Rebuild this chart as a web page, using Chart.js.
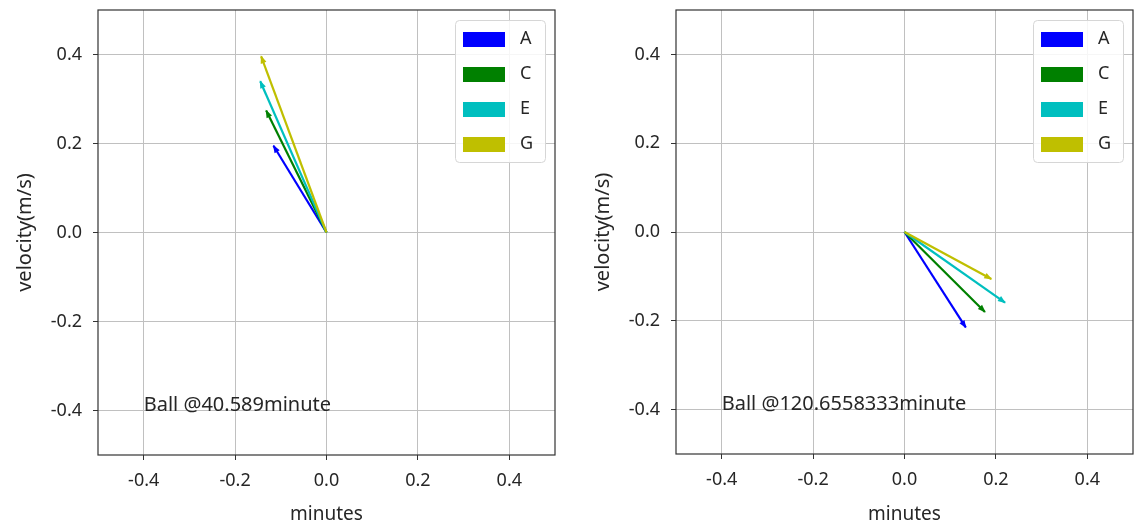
<!DOCTYPE html>
<html>
<head>
<meta charset="utf-8">
<script src="https://cdn.jsdelivr.net/npm/chart.js@4.4.0/dist/chart.umd.min.js"></script>
<style>
  body { margin: 0; background: #fff; width: 1136px; height: 531px; position: relative; overflow: hidden; }
  .box { position: absolute; top: 0; width: 568px; height: 531px; }
</style>
</head>
<body>
<div class="box" style="left:0"><canvas id="leftChart" width="568" height="531"></canvas></div>
<div class="box" style="left:568px"><canvas id="rightChart" width="568" height="531"></canvas></div>
<script>
// arrow labels and colours
const labels = ['A', 'C', 'E', 'G'];
const colors = ['#0000ff', '#008000', '#00bfbf', '#bfbf00'];

// arrow end points (all start at 0,0)
const leftU = [-0.116, -0.132, -0.145, -0.143];
const leftV = [0.195, 0.274, 0.340, 0.396];
const rightU = [0.134, 0.176, 0.220, 0.190];
const rightV = [-0.215, -0.180, -0.159, -0.106];

const tickValues = [-0.4, -0.2, 0, 0.2, 0.4];
const tickLabels = ['-0.4', '-0.2', '0.0', '0.2', '0.4'];

const leftNote = 'Ball @40.589minute';
const rightNote = 'Ball @120.6558333minute';
const noteX = -0.4, noteY = -0.4;

Chart.defaults.font.family = '"Noto Sans", sans-serif';
Chart.defaults.font.size = 18;
Chart.defaults.color = '#262626';

const textColor = '#262626';

const makeChart = (id, u, v, note, yWidth, rightPad, xHeight, yTitlePad) => {
    const datasets = labels.map((lab, i) => ({
        label: lab,
        data: [{x: 0, y: 0}, {x: u[i], y: v[i]}],
        borderColor: colors[i],
        backgroundColor: colors[i],
        borderWidth: 2.2,
        pointRadius: 0,
        order: labels.length - i
    }));

    const decor = {
        id: 'decor',
        afterDatasetsDraw(chart) {
            const c = chart.ctx;
            // arrow heads
            chart.data.datasets.forEach((ds, i) => {
                const pts = chart.getDatasetMeta(i).data;
                const p0 = pts[0], p1 = pts[1];
                const a = Math.atan2(p1.y - p0.y, p1.x - p0.x);
                const len = 7, hw = 3;
                c.save();
                c.fillStyle = ds.borderColor;
                c.translate(p1.x, p1.y);
                c.rotate(a);
                c.beginPath();
                c.moveTo(1, 0);
                c.lineTo(-len, -hw);
                c.lineTo(-len, hw);
                c.closePath();
                c.fill();
                c.restore();
            });
        },
        afterDraw(chart) {
            const c = chart.ctx;
            const area = chart.chartArea;
            const xs = chart.scales.x, ys = chart.scales.y;
            c.save();
            // frame
            c.strokeStyle = '#333';
            c.lineWidth = 1.2;
            c.strokeRect(area.left, area.top, area.right - area.left, area.bottom - area.top);
            // note text
            c.fillStyle = textColor;
            c.font = '20px "Noto Sans", sans-serif';
            c.textAlign = 'left';
            c.textBaseline = 'alphabetic';
            c.fillText(note, xs.getPixelForValue(noteX), ys.getPixelForValue(noteY));
            // legend
            const bw = 90, bh = 142;
            const bx = area.right - 10 - bw, by = area.top + 10;
            c.fillStyle = 'rgba(255,255,255,0.85)';
            c.strokeStyle = '#d6d6d6';
            c.lineWidth = 1;
            c.beginPath();
            c.roundRect(bx + 0.5, by + 0.5, bw, bh, 4);
            c.fill();
            c.stroke();
            c.font = '18px "Noto Sans", sans-serif';
            chart.data.datasets.forEach((ds, i) => {
                const py = by + 12 + i * 35;
                c.fillStyle = ds.borderColor;
                c.fillRect(bx + 8, py, 42, 15);
                c.fillStyle = textColor;
                c.textBaseline = 'middle';
                c.fillText(ds.label, bx + 65, py + 7);
            });
            c.restore();
        }
    };

    return new Chart(document.getElementById(id), {
        type: 'line',
        data: {datasets: datasets},
        options: {
            responsive: false,
            animation: false,
            layout: {padding: {top: 10, right: rightPad, left: 0, bottom: 0}},
            plugins: {legend: {display: false}, tooltip: {enabled: false}},
            scales: {
                x: {
                    type: 'linear',
                    min: -0.5,
                    max: 0.5,
                    afterBuildTicks: (s) => { s.ticks = tickValues.map(t => ({value: t})); },
                    afterFit: (s) => { s.height = xHeight; s.paddingLeft = 0; s.paddingRight = 0; },
                    ticks: {
                        padding: 10,
                        color: textColor,
                        callback: (val) => tickLabels[tickValues.findIndex(t => Math.abs(t - val) < 1e-9)]
                    },
                    grid: {color: '#c0c0c0', lineWidth: 1, tickLength: 5, tickColor: '#333'},
                    border: {display: false},
                    title: {display: true, text: 'minutes', color: textColor, font: {size: 19}, padding: {top: 0, bottom: 5}}
                },
                y: {
                    type: 'linear',
                    min: -0.5,
                    max: 0.5,
                    afterBuildTicks: (s) => { s.ticks = tickValues.map(t => ({value: t})); },
                    afterFit: (s) => { s.width = yWidth; s.paddingTop = 0; s.paddingBottom = 0; },
                    ticks: {
                        padding: 11,
                        color: textColor,
                        callback: (val) => tickLabels[tickValues.findIndex(t => Math.abs(t - val) < 1e-9)]
                    },
                    grid: {color: '#c0c0c0', lineWidth: 1, tickLength: 5, tickColor: '#333'},
                    border: {display: false},
                    title: {display: true, text: 'velocity(m/s)', color: textColor, font: {size: 20}, padding: {top: yTitlePad, bottom: 0}}
                }
            }
        },
        plugins: [decor]
    });
};

makeChart('leftChart', leftU, leftV, leftNote, 98, 13, 76, 13.5);
makeChart('rightChart', rightU, rightV, rightNote, 108, 3, 77, 23.5);
</script>
</body>
</html>
